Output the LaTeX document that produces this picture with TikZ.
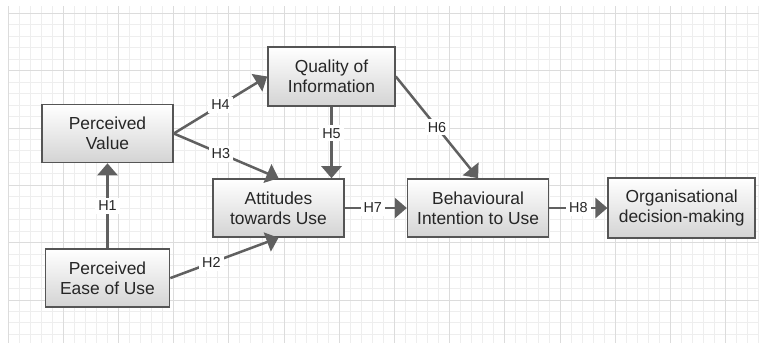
\documentclass[tikz,border=0pt]{standalone}
\usepackage{fontspec}
\setmainfont{Liberation Sans}
\usetikzlibrary{positioning,arrows.meta}
\definecolor{gridminor}{HTML}{EEEEEE}
\definecolor{gridmajor}{HTML}{DCDCDC}
\definecolor{linegray}{HTML}{606060}
\definecolor{boxborder}{HTML}{555555}

\begin{document}
\begin{tikzpicture}[x=0.5pt, y=-0.5pt, node distance=31pt,
>={Triangle[length=6pt,width=10pt]},
main node/.style={rectangle,draw=boxborder,line width=0.8pt,top color=white,bottom color=black!17,
  align=center,text=black!85,font=\fontsize{8.7}{10.2}\selectfont,minimum height=29pt,inner sep=2pt},
hyp/.style={fill=white,text=black!85,font=\fontsize{7.2}{8}\selectfont,inner sep=1.5pt}]

\useasboundingbox (0,0) rectangle (759,343);
\fill[white] (0,0) rectangle (759,343);
% grid
\foreach \i in {0,...,68}
  \draw[gridminor,line width=0.5pt] (8.1+11.04*\i,6) -- (8.1+11.04*\i,343);
\foreach \i in {0,...,28}
  \draw[gridminor,line width=0.5pt] (8,13.3+11.47*\i) -- (759,13.3+11.47*\i);
\foreach \i in {0,5,...,65}
  \draw[gridmajor,line width=0.5pt] (8.1+11.04*\i,6) -- (8.1+11.04*\i,343);
\foreach \i in {0,5,...,25}
  \draw[gridmajor,line width=0.5pt] (8,13.3+11.47*\i) -- (759,13.3+11.47*\i);

\node[main node] [minimum width=65.5pt] (PV) at (107.5,133.5) {Perceived\\Value};
\node[main node] [minimum width=62pt] (PE) [below=42.5pt of PV] {Perceived\\Ease of Use};
\node[main node] [minimum width=63.5pt,minimum height=29.5pt] (QI) at (331.5,76.5) {Quality of\\Information};
\node[main node] [minimum width=65.5pt] (AU) at (278.5,208) {Attitudes\\towards Use};
\node[main node] [minimum width=70.5pt] (BI) [right=31pt of AU] {Behavioural\\Intention to Use};
\node[main node] [minimum width=73.5pt,minimum height=30pt] (OD) [right=29pt of BI] {Organisational\\decision-making};

\path[every edge/.style={draw=linegray,line width=1.25pt}]
(PE) [->] edge node [hyp] {H1} (PV)
(PE.east) [->] edge node [hyp,pos=0.38] {H2} (AU.south)
(PV.east) [->] edge node [hyp,pos=0.45] {H3} (AU.north)
(PV.east) [->] edge node [hyp,pos=0.5] {H4} (QI.west)
(QI.south) [->] edge node [hyp,pos=0.37] {H5} (QI.south |- AU.north)
(QI.east) [->] edge node [hyp,pos=0.5] {H6} (BI.north)
(AU.east) [->] edge node [hyp,pos=0.45] {H7} (BI.west)
(BI.east) [->] edge node [hyp,pos=0.5] {H8} (BI.east -| OD.west);
\end{tikzpicture}
\end{document}
